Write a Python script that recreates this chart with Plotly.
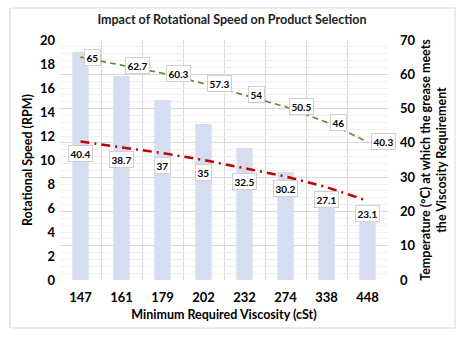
import plotly.graph_objects as go

categories = ["147", "161", "179", "202", "232", "274", "338", "448"]
speed_rpm = [19, 17, 15, 13, 11, 9, 7, 5]
temp_green = [65, 62.7, 60.3, 57.3, 54, 50.5, 46, 40.3]
temp_red = [40.4, 38.7, 37, 35, 32.5, 30.2, 27.1, 23.1]

xpos = list(range(len(categories)))
FONT = "Lato"

fig = go.Figure()
fig.add_trace(go.Bar(x=xpos, y=speed_rpm, width=0.4, marker_color="#D5DEF0",
                     marker_line_width=0, yaxis="y", showlegend=False))
fig.add_trace(go.Scatter(x=xpos, y=temp_green, mode="lines", yaxis="y2",
                         line=dict(color="#5A8A32", width=1.6, dash="6px,4px"),
                         showlegend=False))
fig.add_trace(go.Scatter(x=xpos, y=temp_red, mode="lines", yaxis="y2",
                         line=dict(color="#C00000", width=2.5, dash="9px,5px,2px,5px"),
                         showlegend=False))

annots = []
for x, v in zip(xpos, temp_green):
    annots.append(dict(x=x, y=v, xref="x", yref="y2", text=str(v), showarrow=False,
                       xanchor="left", yanchor="middle", xshift=3,
                       bgcolor="white", bordercolor="#D0D0D0", borderwidth=1, borderpad=1.5,
                       font=dict(family=FONT, size=10, color="black", weight="bold")))
for x, v in zip(xpos, temp_red):
    annots.append(dict(x=x, y=v, xref="x", yref="y2", text=str(v), showarrow=False,
                       xanchor="center", yanchor="top", yshift=-4,
                       bgcolor="white", bordercolor="#D0D0D0", borderwidth=1, borderpad=1.5,
                       font=dict(family=FONT, size=10, color="black", weight="bold")))

fig.update_layout(
    width=469, height=338,
    margin=dict(l=60, r=81, t=40, b=58),
    paper_bgcolor="white", plot_bgcolor="white",
    font=dict(family=FONT, color="black"),
    title=dict(text="<b>Impact of Rotational Speed on Product Selection</b>",
               x=232/469, xanchor="center", y=1-20/338, yanchor="middle",
               font=dict(family=FONT, size=12.5, color="#222222")),
    xaxis=dict(range=[-0.5, 7.5], tickmode="array", tickvals=xpos, ticktext=categories,
               showgrid=False, zeroline=False, showline=False, ticks="",
               ticklabelstandoff=8,
               tickfont=dict(family=FONT, size=13, weight="bold"),
               minor=dict(tickmode="array", tickvals=[i - 0.5 for i in range(len(categories) + 1)],
                          showgrid=True, gridcolor="#D9D9D9", gridwidth=1, ticks=""),
               title=dict(text="<b>Minimum Required Viscosity (cSt)</b>", standoff=6,
                          font=dict(family=FONT, size=12.5))),
    yaxis=dict(range=[0, 20], dtick=2, showgrid=False, zeroline=False, showline=False,
               tickfont=dict(family=FONT, size=13, weight="bold"), ticks="",
               ticklabelstandoff=4,
               title=dict(text="<b>Rotational Speed (RPM)</b>", standoff=4,
                          font=dict(family=FONT, size=12.5))),
    yaxis2=dict(range=[0, 70], dtick=10, overlaying="y", side="right",
                showgrid=True, gridcolor="#D9D9D9", zeroline=False, showline=False, ticks="",
                ticklabelstandoff=11,
                minor=dict(dtick=2, showgrid=True, gridcolor="#F0F0F0"),
                tickfont=dict(family=FONT, size=13, weight="bold"),
                title=dict(text="<b>Temperature (°C) at which the grease meets<br>the Viscosity Requirement</b>",
                           standoff=6, font=dict(family=FONT, size=12.5))),
    annotations=annots,
    shapes=[dict(type="rect", xref="paper", yref="paper",
                 x0=(10-60)/328, x1=(455-60)/328, y0=-(328-280)/240, y1=1+(40-8)/240,
                 line=dict(color="#D9D9D9", width=1), fillcolor="rgba(0,0,0,0)", layer="below")],
)

fig.write_html("out.html")
